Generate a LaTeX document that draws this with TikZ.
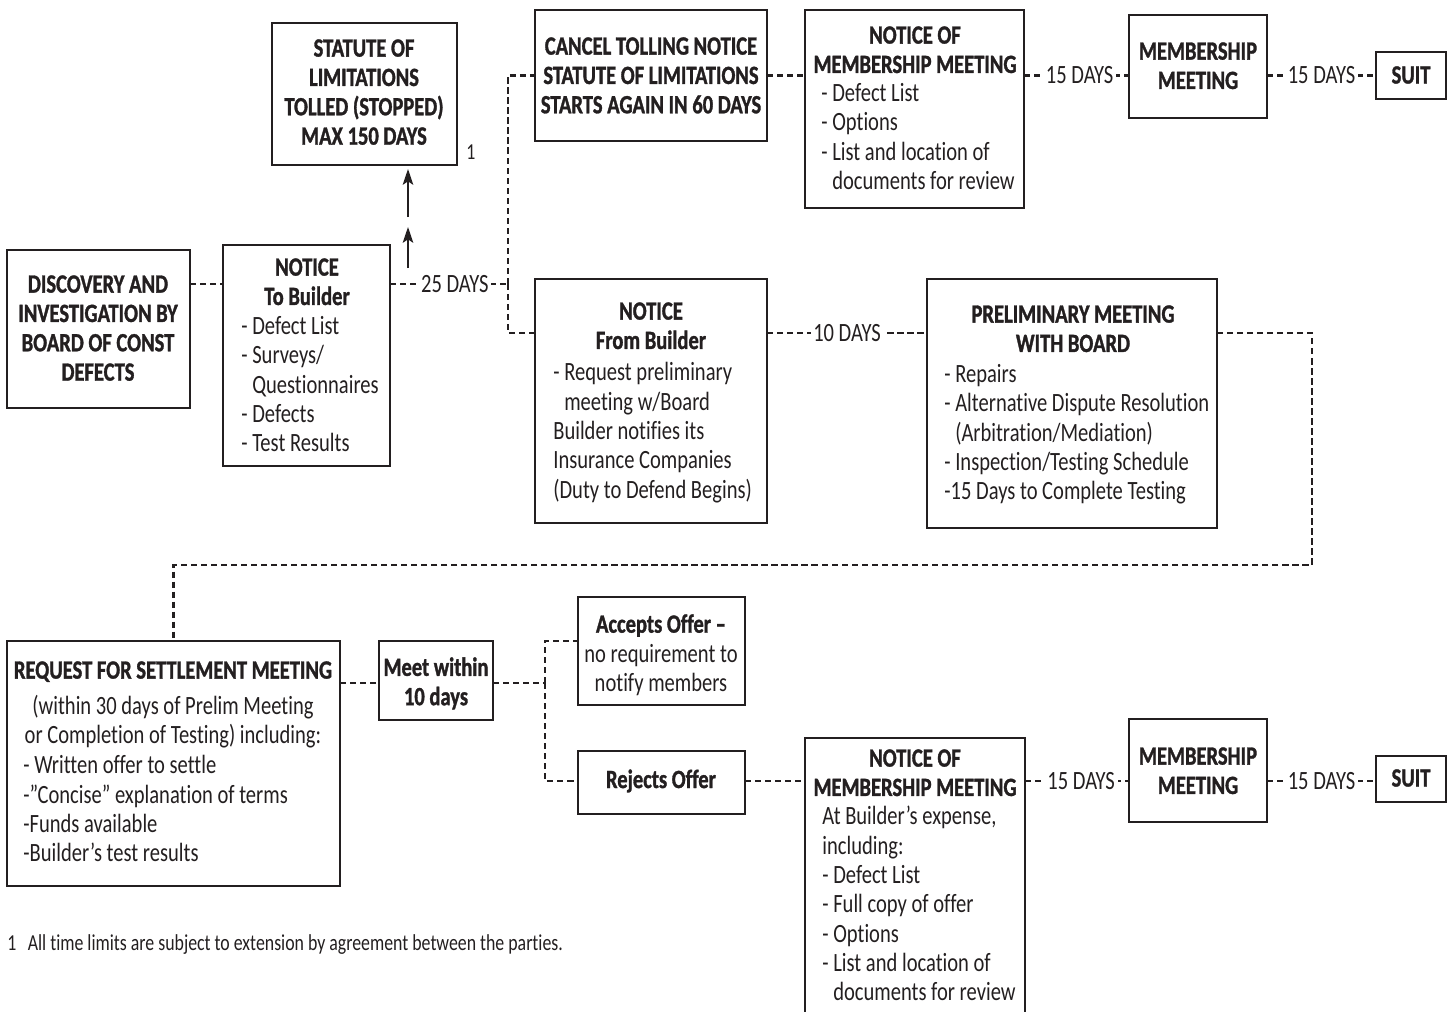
\documentclass[tikz,border=0pt]{standalone}
\usepackage{fontspec}
\setmainfont{Carlito}[FakeStretch=0.78, Ligatures={NoCommon}, BoldFeatures={FakeBold=1.2}]
\usetikzlibrary{arrows.meta}
\definecolor{ink}{HTML}{231F20}
\newcommand\bx[5]{\node[box, minimum width={(#4-#2)*0.02cm}, minimum height={(#5-#3)*0.02cm}] (#1) at ({(#2+#4)/2},{(#3+#5)/2}) {};}
\begin{document}
\begin{tikzpicture}[x=0.02cm,y=-0.02cm,
  box/.style={draw=ink, line width=1.1pt, inner sep=0pt, outer sep=0pt, rectangle},
  conn/.style={draw=ink, line width=1.35pt, dash pattern=on 3.6pt off 2.1pt},
  hd/.style={font=\fontsize{15}{16.7}\selectfont\bfseries, text=ink, align=center, inner sep=0pt, anchor=north},
  lst/.style={font=\fontsize{15}{16.7}\selectfont, text=ink, align=left, inner sep=0pt, anchor=north west},
  lbl/.style={font=\fontsize{15}{16.7}\selectfont, text=ink, fill=white, inner sep=1.5pt, text height=9.6pt, text depth=0pt},
  small/.style={font=\fontsize{13}{15}\selectfont, text=ink, inner sep=0pt},
  arr/.style={draw=ink, line width=1pt, -{Stealth[length=9pt,width=6pt,inset=2pt]}}
]
\useasboundingbox (0,0) rectangle (1450,1011);
\clip (0,0) rectangle (1450,1011);

% ---------- boxes ----------
\bx{stat}{272}{23}{457}{165}
\node[hd] (statT) at (364,39) {STATUTE OF\\LIMITATIONS\\TOLLED (STOPPED)\\MAX 150 DAYS};
\node[small] (fn1) at (471,152) {1};

\bx{disc}{7}{250}{190}{408}
\node[hd] (discT) at (98,275) {DISCOVERY AND\\INVESTIGATION BY\\BOARD OF CONST\\DEFECTS};

\bx{ntb}{223}{245}{390}{466}
\node[hd] (ntbH) at (307,258) {NOTICE\\To Builder};
\node[lst] (ntbL) at (241,316) {- Defect List\\- Surveys/\\\hphantom{- }Questionnaires\\- Defects\\- Test Results};

\bx{cancel}{535}{10}{767}{141}
\node[hd] (cancelT) at (651,37) {CANCEL TOLLING NOTICE\\STATUTE OF LIMITATIONS\\STARTS AGAIN IN 60 DAYS};

\bx{nm1}{805}{10}{1024}{208}
\node[hd] (nm1H) at (915,26) {NOTICE OF\\MEMBERSHIP MEETING};
\node[lst] (nm1L) at (821,83) {- Defect List\\- Options\\- List and location of\\\hphantom{- }documents for review};

\bx{mm1}{1129}{15}{1267}{118}
\node[hd] (mm1T) at (1198,42) {MEMBERSHIP\\MEETING};
\bx{suit1}{1376}{52}{1446}{99}
\node[hd, anchor=center] (suit1T) at (1411,75) {SUIT};

\bx{nfb}{535}{279}{767}{523}
\node[hd] (nfbH) at (651,302) {NOTICE\\From Builder};
\node[lst] (nfbL) at (553,362) {- Request preliminary\\\hphantom{- }meeting w/Board\\Builder notifies its\\Insurance Companies\\(Duty to Defend Begins)};

\bx{pre}{927}{279}{1217}{528}
\node[hd] (preH) at (1073,305) {PRELIMINARY MEETING\\WITH BOARD};
\node[lst] (preL) at (944,364) {- Repairs\\- Alternative Dispute Resolution\\\hphantom{- }(Arbitration/Mediation)\\- Inspection/Testing Schedule\\-15 Days to Complete Testing};

\bx{req}{7}{641}{340}{886}
\node[hd] (reqH) at (173,661) {REQUEST FOR SETTLEMENT MEETING};
\node[lst, align=center, anchor=north] (reqS) at (173,695) {(within 30 days of Prelim Meeting\\or Completion of Testing) including:};
\node[lst] (reqL) at (23,755) {- Written offer to settle\\-”Concise” explanation of terms\\-Funds available\\-Builder’s test results};

\bx{meet}{379}{641}{493}{720}
\node[hd] (meetT) at (436,657) {Meet within\\10 days};

\bx{acc}{578}{597}{745}{705}
\node[lst, align=center, anchor=north] (accT) at (661,614) {\textbf{Accepts Offer –}\\no requirement to\\notify members};

\bx{rej}{578}{751}{745}{814}
\node[hd, anchor=center] (rejT) at (661,781) {Rejects Offer};

\bx{nm2}{805}{738}{1025}{1030}
\node[hd] (nm2H) at (915,749) {NOTICE OF\\MEMBERSHIP MEETING};
\node[lst] (nm2L) at (822,806) {At Builder’s expense,\\including:\\- Defect List\\- Full copy of offer\\- Options\\- List and location of\\\hphantom{- }documents for review};

\bx{mm2}{1129}{719}{1267}{822}
\node[hd] (mm2T) at (1198,747) {MEMBERSHIP\\MEETING};
\bx{suit2}{1376}{756}{1446}{802}
\node[hd, anchor=center] (suit2T) at (1411,778) {SUIT};

\node[small, anchor=west] (foot) at (7,945) {1\hspace{0.5em}All time limits are subject to extension by agreement between the parties.};

% ---------- connectors ----------
\coordinate (r284) at (0,284);
\coordinate (j1) at (508,284);
\coordinate (r333) at (0,333);
\draw[conn] (disc.east |- r284) -- (ntb.west |- r284);
\draw[conn] (ntb.east |- r284) -- node[lbl,pos=0.55]{25 DAYS} (j1);
\draw[conn] (j1) |- (cancel.west);
\draw[conn] (j1) |- (nfb.west |- r333);
\draw[conn] (cancel.east) -- (nm1.west |- cancel.east);
\draw[conn] (nm1.east |- cancel.east) -- node[lbl,pos=0.53]{15 DAYS} (mm1.west |- cancel.east);
\draw[conn] (mm1.east |- cancel.east) -- node[lbl]{15 DAYS} (suit1.west);

\coordinate (a1) at (408,268);
\coordinate (a2) at (408,227);
\coordinate (a3) at (408,217);
\coordinate (a4) at (408,169);
\draw[arr] (a1) -- (a2);
\draw[arr] (a3) -- (a4);

\draw[conn] (nfb.east |- r333) -- node[lbl]{10 DAYS} (pre.west |- r333);
\coordinate (c1) at (1312,565);
\draw[conn] (pre.east |- r333) -| (c1) -| (req.north);

\coordinate (r683) at (0,683);
\coordinate (j2) at (545,683);
\coordinate (r641) at (0,641);
\coordinate (r781) at (0,781);
\draw[conn] (req.east |- r683) -- (meet.west |- r683);
\draw[conn] (meet.east |- r683) -- (j2);
\draw[conn] (j2) |- (acc.west |- r641);
\draw[conn] (j2) |- (rej.west |- r781);
\draw[conn] (rej.east |- r781) -- (nm2.west |- r781);
\draw[conn] (nm2.east |- r781) -- node[lbl,pos=0.54]{15 DAYS} (mm2.west |- r781);
\draw[conn] (mm2.east |- r781) -- node[lbl]{15 DAYS} (suit2.west |- r781);
\end{tikzpicture}
\end{document}
